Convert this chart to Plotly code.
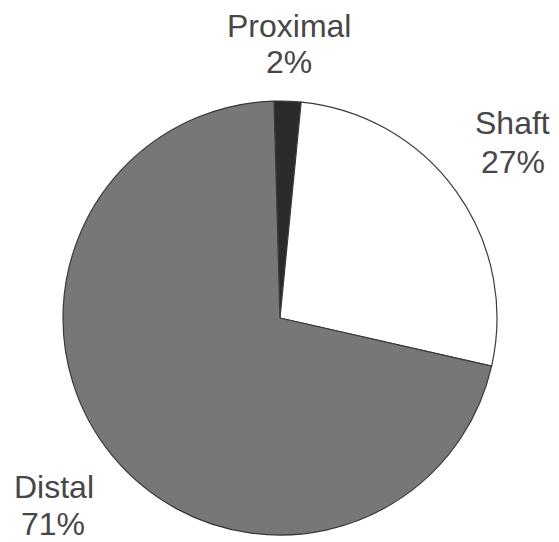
import plotly.graph_objects as go

# Fracture location shares (percent)
regions = ["Proximal", "Shaft", "Distal"]
shares = [2, 27, 71]
slice_colors = ["#2b2b2b", "#ffffff", "#777777"]

W, H = 559, 542

fig = go.Figure(
    go.Pie(
        labels=regions,
        values=shares,
        sort=False,
        direction="clockwise",
        rotation=-1.6,
        textinfo="none",
        hoverinfo="label+percent",
        marker=dict(colors=slice_colors, line=dict(color="#3a3a3a", width=1.2)),
        domain=dict(x=[63 / W, 497 / W], y=[1 - 535 / H, 1 - 101 / H]),
        showlegend=False,
    )
)

# Label positions (pixels from top-left) for name and percentage lines
label_pos = {
    "Proximal": ((289, 26), (289, 62)),
    "Shaft": ((512, 123), (513, 162)),
    "Distal": ((54, 487), (53, 524)),
}

font = dict(family="Liberation Sans, Arial, sans-serif", size=32, color="#474747")
annotations = []
for name, val in zip(regions, shares):
    (nx, ny), (px, py) = label_pos[name]
    annotations.append(dict(x=nx / W, y=1 - ny / H, text=name, xref="paper", yref="paper",
                            showarrow=False, xanchor="center", yanchor="middle", font=font))
    annotations.append(dict(x=px / W, y=1 - py / H, text=f"{val}%", xref="paper", yref="paper",
                            showarrow=False, xanchor="center", yanchor="middle", font=font))

fig.update_layout(
    width=W,
    height=H,
    margin=dict(l=0, r=0, t=0, b=0),
    paper_bgcolor="white",
    plot_bgcolor="white",
    annotations=annotations,
)

fig.write_html("out.html")
